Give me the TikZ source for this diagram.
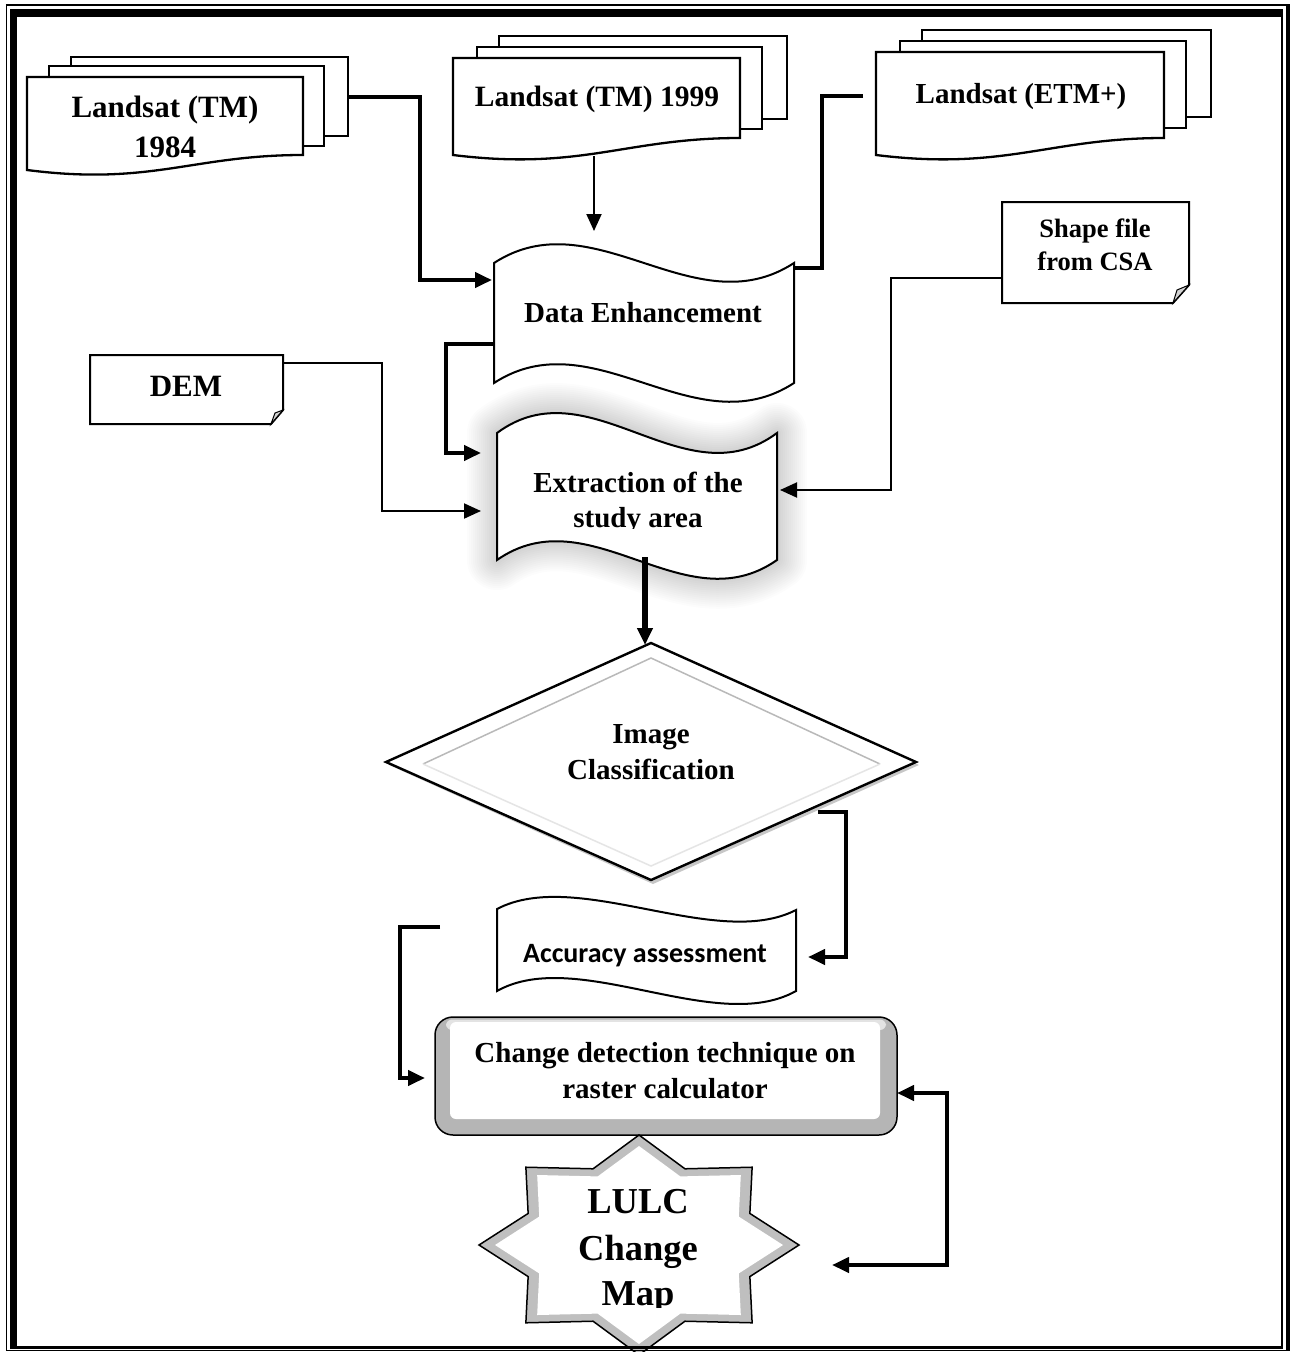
\documentclass[tikz,border=0pt]{standalone}
\usepackage{fontspec}
\setmainfont{Liberation Serif}
\newfontfamily\calfont{Carlito}
\usetikzlibrary{arrows.meta}
\tikzset{
  docshape/.style={draw=black,line width=2.3pt,fill=white,line join=miter},
  wave/.style={draw=black,line width=2pt,fill=white},
  note/.style={draw=black,line width=2pt,fill=white},
  thickc/.style={draw=black,line width=4pt},
  thinc/.style={draw=black,line width=2pt},
  tip/.style={-{Triangle[length=17pt,width=15pt]}},
  lbl/.style={anchor=base,inner sep=0pt,font=\bfseries\fontsize{29}{35}\selectfont},
}
\newcommand\pagebox[4]{\path[docshape] (#1,#2) rectangle (#3,#4);}
\newcommand\frontdoc[5]{\path[docshape] (#1,#2) -- (#3,#2) -- (#3,#5) .. controls ({#3-0.4*(#3-#1)},#5) and ({#1+0.45*(#3-#1)},{#4+16}) .. (#1,#4) -- cycle;}
\newcommand\expath[1]{\path[#1] (497,433) .. controls (590,364) and (684,502) .. (777,433) -- (777,560) .. controls (684,625) and (590,495) .. (497,560) -- cycle;}
\newcommand\lulcstar[2]{\path[#1] ({639+160*#2},1245) \foreach \i in {1,...,15}{ -- ({639+160*#2*(mod(\i,2)==0?1:0.75)*cos(\i*22.5)},{1245+110*#2*(mod(\i,2)==0?1:0.75)*sin(\i*22.5)}) } -- cycle;}
\begin{document}
\begin{tikzpicture}[x=1pt,y=-1pt]
\useasboundingbox (0,0) rectangle (1291,1352);
\fill[white] (0,0) rectangle (1291,1352);

% ---- Landsat (TM) 1984
\pagebox{71}{57}{348}{136}
\pagebox{49}{66}{324}{146}
\frontdoc{27}{77}{303}{170}{155}
\node[lbl,font=\bfseries\fontsize{31}{37}\selectfont] (t84a) at (165,117) {Landsat (TM)};
\node[lbl,font=\bfseries\fontsize{31}{37}\selectfont] (t84b) at (165,157) {1984};
\coordinate (ls84out) at (348,97);

% ---- Landsat (TM) 1999
\pagebox{499}{36}{787}{119}
\pagebox{477}{47}{762}{129}
\frontdoc{453}{58}{740}{155}{138}
\node[lbl,font=\bfseries\fontsize{29.5}{35}\selectfont] (t99) at (597,106) {Landsat (TM) 1999};
\coordinate (ls99out) at (594,156);

% ---- Landsat (ETM+)
\pagebox{922}{30}{1211}{117}
\pagebox{900}{41}{1186}{128}
\frontdoc{876}{52}{1164}{155}{138}
\node[lbl] (tetm) at (1021,103) {Landsat (ETM+)};
\coordinate (etmout) at (863,96);

% ---- Shape file
\path[note] (1002,202) -- (1189,202) -- (1189,285) -- (1173,303) -- (1002,303) -- cycle;
\path[fill=gray!35,draw=black,line width=1pt] (1189,285) -- (1173,303) -- (1177,290) -- cycle;
\node[lbl,font=\bfseries\fontsize{26.5}{32}\selectfont] (tshpa) at (1095,237) {Shape file};
\node[lbl,font=\bfseries\fontsize{26.5}{32}\selectfont] (tshpb) at (1095,270) {from CSA};
\coordinate (shpout) at (1002,278);

% ---- DEM
\path[note] (90,355) -- (283,355) -- (283,410) -- (271,424) -- (90,424) -- cycle;
\path[fill=gray!35,draw=black,line width=1pt] (283,410) -- (271,424) -- (275,413) -- cycle;
\node[lbl,font=\bfseries\fontsize{31}{37}\selectfont] (tdem) at (186,396) {DEM};
\coordinate (demout) at (283,363);

% ---- soft glow of the extraction box
\foreach \w in {4,8,...,60}{\expath{draw=black,line width=\w pt,opacity=0.011,line join=round}}

% ---- Data Enhancement
\path[wave] (494,263) .. controls (594,198) and (694,328) .. (794,263) -- (794,383) .. controls (694,448) and (594,318) .. (494,383) -- cycle;
\node[lbl] (tde) at (643,322) {Data Enhancement};
\coordinate (dein1) at (492,280);
\coordinate (dein2) at (594,231);
\coordinate (deout1) at (795,268);
\coordinate (deout2) at (494,344);

% ---- Extraction
\expath{wave}
\node[lbl] (texa) at (638,492) {Extraction of the};
\begin{scope}
\clip (500,500) rectangle (775,528);
\node[lbl] (texb) at (638,527) {study area};
\end{scope}
\coordinate (exin1) at (481,453);
\coordinate (exin2) at (481,511);
\coordinate (exin3) at (780,490);
\coordinate (exout) at (645,557);

% ---- Image Classification diamond
\path[fill=black,opacity=0.22] (653,646) -- (919,765) -- (653,884) -- (389,765) -- cycle;
\path[draw=black,line width=2.4pt,fill=white] (651,643) -- (916,762) -- (651,880) -- (386,762) -- cycle;
\draw[gray!55,line width=1.5pt] (423,764) -- (651,658) -- (880,764);
\draw[gray!20,line width=1.5pt] (880,764) -- (651,866) -- (423,764);
\node[lbl] (tica) at (651,743) {Image};
\node[lbl] (ticb) at (651,779) {Classification};
\coordinate (icin) at (645,645);
\coordinate (icout) at (818,812);

% ---- Accuracy assessment
\path[wave] (497,909) .. controls (577,867) and (716,951) .. (796,910) -- (796,991) .. controls (716,1036) and (577,946) .. (497,991) -- cycle;
\node[anchor=base,inner sep=0pt,font=\calfont\bfseries\fontsize{28}{34}\selectfont] (tacc) at (645,962) {Accuracy assessment};
\coordinate (acin) at (808,957);
\coordinate (acout) at (440,927);

% ---- Change detection box
\path[draw=black,line width=1.5pt,fill=gray!58,rounded corners=18pt] (435,1017) rectangle (897,1135);
\path[fill=gray!22,rounded corners=6pt] (446,1019.5) rectangle (886,1030);
\path[fill=white,rounded corners=6pt] (450,1022) rectangle (880,1119);
\node[lbl] (tcda) at (665,1062) {Change detection technique on};
\node[lbl] (tcdb) at (665,1098) {raster calculator};
\coordinate (cdin) at (425,1078);
\coordinate (cdin2) at (897,1093);

% ---- LULC star
\lulcstar{draw=black,line width=1.5pt,fill=gray!50}{1}
\lulcstar{fill=white}{0.9}
\node[lbl,font=\bfseries\fontsize{36.5}{44}\selectfont] (tla) at (638,1213) {LULC};
\node[lbl,font=\bfseries\fontsize{36.5}{44}\selectfont] (tlb) at (638,1260) {Change};
\begin{scope}
\clip (560,1270) rectangle (720,1307);
\node[lbl,font=\bfseries\fontsize{36.5}{44}\selectfont] (tlc) at (638,1305) {Map};
\end{scope}
\coordinate (lulcin) at (832,1265);

% ---- connectors
\draw[thickc,tip] (ls84out) -- ++(72,0) |- (dein1);
\draw[thinc,tip] (ls99out) -- (dein2);
\draw[thickc] (etmout) -- ++(-41,0) |- (deout1);
\draw[thickc,tip] (deout2) -- ++(-48,0) |- (exin1);
\draw[thinc,tip] (demout) -- ++(99,0) |- (exin2);
\draw[thinc,tip] (shpout) -- ++(-111,0) |- (exin3);
\draw[draw=black,line width=6pt,tip] (exout) -- (icin);
\draw[thickc,tip] (icout) -- ++(28,0) |- (acin);
\draw[thickc,tip] (acout) -- ++(-40,0) |- (cdin);
\draw[thickc,{Triangle[length=17pt,width=15pt]}-{Triangle[length=17pt,width=15pt]}] (lulcin) -- ++(115,0) |- (cdin2);

% ---- page frame
\draw[line width=1.5pt] (6.5,4.5) -- (6.5,1351);
\draw[line width=1.5pt] (5.75,5) -- (1290,5);
\draw[line width=4.5pt] (1288,4.25) -- (1288,1351);
\draw[line width=1.5pt] (5.75,1350.5) -- (1290,1350.5);
\draw[line width=7pt] (13.5,9) -- (13.5,1348.5);
\draw[line width=7.5pt] (10,12.8) -- (1282.75,12.8);
\draw[line width=1.5pt] (1282,9) -- (1282,1348.5);
\draw[line width=3pt] (10,1347) -- (1282.75,1347);
\end{tikzpicture}
\end{document}
